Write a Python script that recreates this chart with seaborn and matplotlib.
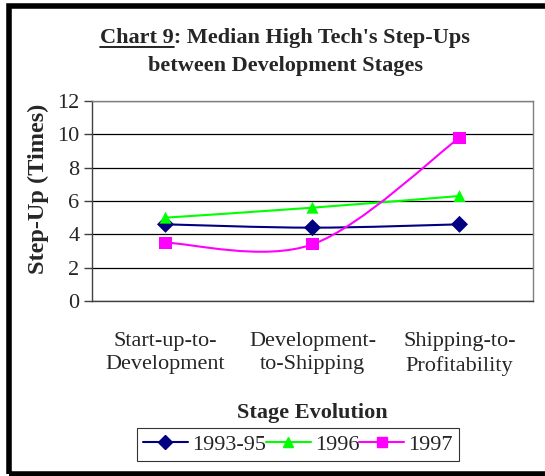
import numpy as np
import pandas as pd
import seaborn as sns
import matplotlib.pyplot as plt
from matplotlib.path import Path
from matplotlib.patches import PathPatch, Rectangle
from matplotlib.lines import Line2D

stages = ["Start-up-to-\nDevelopment", "Development-\nto-Shipping", "Shipping-to-\nProfitability"]
series_names = ["1993-95", "1996", "1997"]
y_1993_95 = [4.6, 4.4, 4.6]
y_1996 = [5.0, 5.6, 6.3]
y_1997 = [3.5, 3.4, 9.8]
colors = ["#000080", "#00FF00", "#FF00FF"]
markers = ["D", "^", "s"]

sns.set_style("white")
plt.rcParams['font.family'] = ['Liberation Serif', 'DejaVu Serif']

df = pd.DataFrame({
    'pos': list(range(len(stages))) * 3,
    'value': y_1993_95 + y_1996 + y_1997,
    'series': [s for s in series_names for _ in stages],
})


def smooth_path(xs, ys):
    # excel-like smoothed line: cubic bezier with catmull-rom tangents
    pts = np.column_stack([xs, ys]).astype(float)
    n = len(pts)
    verts = [pts[0]]
    codes = [Path.MOVETO]
    for i in range(n - 1):
        p_prev = pts[max(i - 1, 0)]
        p0, p1 = pts[i], pts[i + 1]
        p_next = pts[min(i + 2, n - 1)]
        c1 = p0 + (p1 - p_prev) / 6
        c2 = p1 - (p_next - p0) / 6
        verts += [c1, c2, p1]
        codes += [Path.CURVE4] * 3
    return Path(verts, codes)


fig = plt.figure(figsize=(5.45, 4.76), dpi=100)
ax = fig.add_axes([92 / 545, 1 - 301 / 476, 441 / 545, 200 / 476])

for name, col in zip(series_names, colors):
    sub = df[df['series'] == name]
    ax.add_patch(PathPatch(smooth_path(sub['pos'], sub['value']), facecolor='none',
                           edgecolor=col, lw=1.5, zorder=3))

sns.scatterplot(data=df, x='pos', y='value', hue='series', style='series',
                palette=dict(zip(series_names, colors)),
                markers=dict(zip(series_names, markers)),
                s=75, edgecolor='none', legend=False, ax=ax, zorder=4)

ax.set_xlim(-0.5, 2.5)
ax.set_ylim(0, 12)
ax.set_yticks(range(0, 13, 2))
ax.set_xticks(range(len(stages)))
ax.set_xticklabels(stages, fontsize=16, linespacing=1.35)
ax.set_xticks([-0.5, 0.5, 1.5, 2.5], minor=True)
ax.tick_params(axis='x', which='major', length=0, pad=22)
ax.tick_params(axis='x', which='minor', length=6, width=1, color='#404040', direction='out')
ax.tick_params(axis='y', length=6, width=1, color='#404040', direction='out', labelsize=16, pad=3, left=True)
ax.yaxis.grid(True, color='black', lw=0.9)
ax.set_axisbelow(True)
for side in ['left', 'bottom']:
    ax.spines[side].set_color('#404040')
    ax.spines[side].set_linewidth(1)
for side in ['right', 'top']:
    ax.spines[side].set_color('#808080')
    ax.spines[side].set_linewidth(1)

ax.set_xlabel("Stage Evolution", fontsize=16, fontweight='bold', labelpad=20)
ax.set_ylabel("Step-Up (Times)", fontsize=17.5, fontweight='bold')
ax.yaxis.set_label_coords(-0.098, 0.56)

# title, "Chart 9" underlined
t1 = fig.text(285 / 545, 1 - 43 / 476, "Chart 9: Median High Tech's Step-Ups",
              ha='center', va='baseline', fontsize=16, fontweight='bold')
fig.text(285 / 545, 1 - 71 / 476, "between Development Stages",
         ha='center', va='baseline', fontsize=16, fontweight='bold')
fig.canvas.draw()
r = fig.canvas.get_renderer()
bb = t1.get_window_extent(r)
tmp = fig.text(0, 0, "Chart 9", fontsize=16, fontweight='bold')
w = tmp.get_window_extent(r).width
tmp.remove()
W, H = fig.bbox.width, fig.bbox.height
uy = 1 - 47 / 476
fig.add_artist(Line2D([bb.x0 / W, (bb.x0 + w) / W], [uy, uy], color='black', lw=1.2))

handles = [Line2D([], [], color=c, marker=m, markersize=7, lw=1.5) for c, m in zip(colors, markers)]
fig.legend(handles, series_names, loc='upper center', bbox_to_anchor=(298 / 545, 1 - 428 / 476),
           ncol=3, fontsize=16, frameon=True, fancybox=False, edgecolor='black',
           handlelength=2.0, handletextpad=0.2, columnspacing=0.0, borderpad=0.28,
           borderaxespad=0)
fig.legends[0].get_frame().set_linewidth(0.8)

# outer chart border
fig.add_artist(Rectangle((8.5 / 545, 1 - 473.5 / 476), 1.1, (473.5 - 6) / 476,
                         transform=fig.transFigure, fill=False, lw=4, edgecolor='black',
                         clip_on=False))

fig.savefig("out.png", dpi=100)
